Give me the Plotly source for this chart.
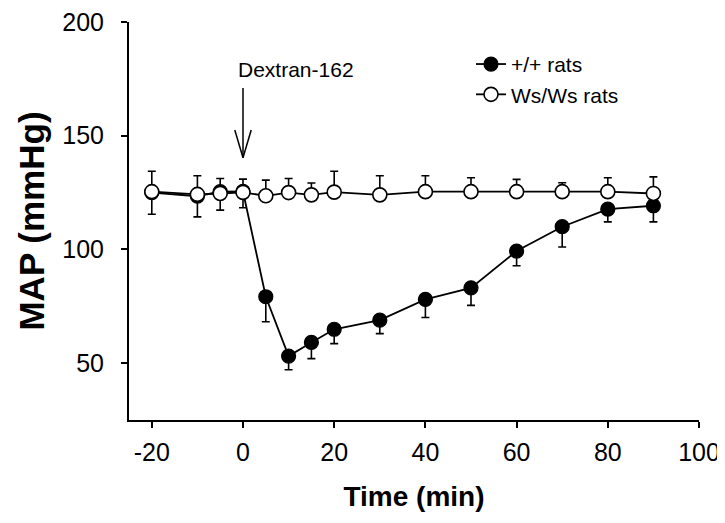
import plotly.graph_objects as go

time_min = [-20, -10, -5, 0, 5, 10, 15, 20, 30, 40, 50, 60, 70, 80, 90]
wt_map = [125.0, 123.4, 125.4, 125.5, 79.2, 53.1, 59.1, 64.9, 68.9, 78.0, 83.1, 99.3, 110.0, 117.7, 119.2]
wt_err_lower = [9.5, 9.1, 8.1, 7.2, 11.0, 6.0, 7.1, 6.3, 5.9, 7.9, 7.7, 6.5, 8.9, 5.6, 7.1]
ws_map = [125.4, 124.2, 124.6, 125.1, 123.6, 125.0, 124.0, 125.2, 124.0, 125.4, 125.4, 125.4, 125.4, 125.4, 124.6]
ws_err_upper = [9.0, 8.2, 6.6, 5.8, 6.9, 6.2, 5.2, 9.2, 8.4, 7.0, 6.1, 5.4, 3.9, 6.1, 7.3]

x_ticks = [-20, 0, 20, 40, 60, 80, 100]
x_labels = ["-20", "0", "20", "40", "60", "80", "100"]
y_ticks = [50, 100, 150, 200]

FONT = "Liberation Sans, Arial, sans-serif"

fig = go.Figure()
fig.add_trace(go.Scatter(
    x=time_min, y=wt_map, mode="lines+markers", name="+/+ rats",
    line=dict(color="black", width=1.8),
    marker=dict(symbol="circle", size=14, color="black", line=dict(color="black", width=1.2)),
    error_y=dict(type="data", symmetric=False, array=[0] * len(wt_err_lower),
                 arrayminus=wt_err_lower, color="black", thickness=1.6, width=4),
))
fig.add_trace(go.Scatter(
    x=time_min, y=ws_map, mode="lines+markers", name="Ws/Ws rats",
    line=dict(color="black", width=1.8),
    marker=dict(symbol="circle", size=14, color="white", line=dict(color="black", width=1.6)),
    error_y=dict(type="data", symmetric=False, array=ws_err_upper,
                 arrayminus=[0] * len(ws_err_upper), color="black", thickness=1.6, width=4),
))

# Dextran arrow (open V head)
arrow_x = 0
fig.add_shape(type="line", x0=arrow_x, x1=arrow_x, y0=171, y1=140.3,
              line=dict(color="black", width=1.5))
fig.add_shape(type="line", x0=arrow_x - 1.8, x1=arrow_x, y0=152.5, y1=140.3,
              line=dict(color="black", width=1.5))
fig.add_shape(type="line", x0=arrow_x + 1.8, x1=arrow_x, y0=152.5, y1=140.3,
              line=dict(color="black", width=1.5))
fig.add_annotation(x=arrow_x, y=179.3, xref="x", yref="y", text="Dextran-162",
                   showarrow=False, xanchor="left", yanchor="middle", xshift=-7,
                   font=dict(family=FONT, size=21, color="black"))

fig.update_layout(
    width=717, height=515,
    margin=dict(l=121, r=26, t=14, b=103, autoexpand=False),
    paper_bgcolor="white", plot_bgcolor="white",
    font=dict(family=FONT, color="black"),
    showlegend=True,
    legend=dict(x=0.60, y=0.945, xanchor="left", yanchor="top",
                bgcolor="rgba(0,0,0,0)", font=dict(family=FONT, size=21),
                tracegroupgap=0),
    xaxis=dict(range=[-25, 100], tickvals=x_ticks, ticktext=x_labels, ticks="outside", ticklen=6,
               tickwidth=2, tickcolor="black", showline=True, linecolor="black",
               linewidth=2, showgrid=False, zeroline=False, ticklabelstandoff=3,
               ticklabeloverflow="allow", automargin=False,
               tickfont=dict(family=FONT, size=25),
               title=dict(text="<b>Time (min)</b>", font=dict(family=FONT, size=28), standoff=21)),
    yaxis=dict(range=[25, 200.01], tickvals=y_ticks, ticks="outside", ticklen=6,
               tickwidth=2, tickcolor="black", showline=True, linecolor="black",
               linewidth=2, showgrid=False, zeroline=False, ticklabelstandoff=12,
               ticklabeloverflow="allow", automargin=False,
               tickfont=dict(family=FONT, size=25),
               title=dict(text="<b>MAP (mmHg)</b>", font=dict(family=FONT, size=35), standoff=7)),
)

fig.write_html("out.html")
